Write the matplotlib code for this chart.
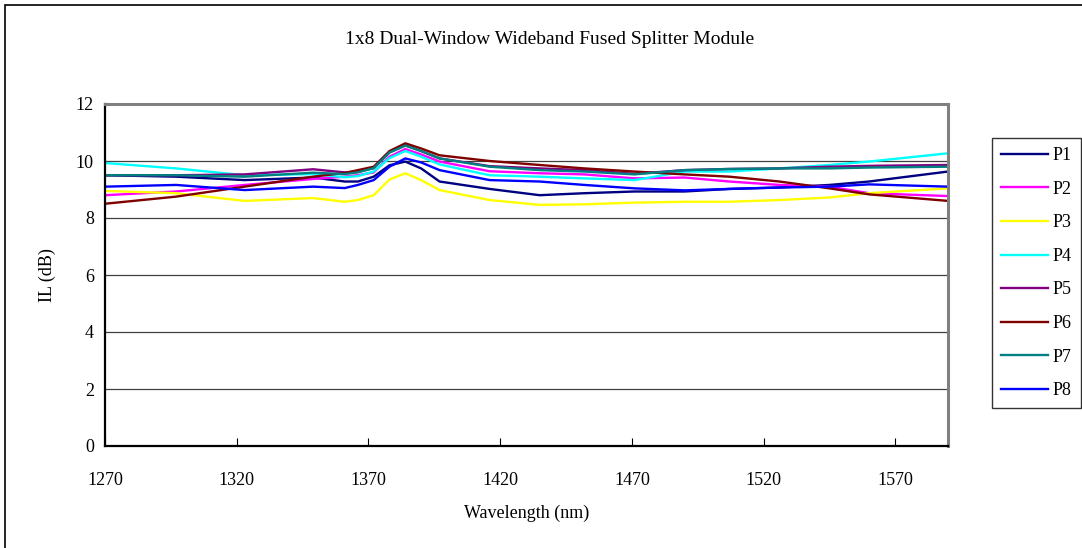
import matplotlib
matplotlib.use("Agg")
import matplotlib.pyplot as plt
from matplotlib.patches import Rectangle

plt.rcParams['font.family'] = ['Liberation Serif', 'DejaVu Serif']

wavelength = [1270, 1297, 1323, 1349, 1361, 1366, 1372, 1378, 1384, 1390, 1397,
              1416, 1435, 1452, 1471, 1490, 1507, 1526, 1545, 1560, 1590]

P1 = [9.50, 9.45, 9.33, 9.42, 9.28, 9.28, 9.45, 9.85, 9.98, 9.74, 9.28,
      9.02, 8.80, 8.87, 8.93, 8.93, 9.02, 9.07, 9.16, 9.28, 9.63]
P2 = [8.80, 8.93, 9.16, 9.37, 9.45, 9.50, 9.60, 10.15, 10.42, 10.23, 9.98,
      9.64, 9.57, 9.53, 9.39, 9.42, 9.28, 9.16, 9.10, 8.87, 8.77]
P3 = [8.95, 8.87, 8.60, 8.70, 8.57, 8.63, 8.80, 9.35, 9.57, 9.33, 8.98,
      8.63, 8.46, 8.48, 8.54, 8.57, 8.57, 8.63, 8.72, 8.87, 9.04]
P4 = [9.93, 9.74, 9.50, 9.54, 9.43, 9.47, 9.63, 10.10, 10.35, 10.15, 9.88,
      9.50, 9.45, 9.39, 9.33, 9.63, 9.63, 9.74, 9.86, 9.98, 10.27]
P5 = [9.50, 9.50, 9.53, 9.71, 9.60, 9.63, 9.75, 10.30, 10.55, 10.35, 10.09,
      9.82, 9.74, 9.68, 9.55, 9.68, 9.72, 9.74, 9.80, 9.83, 9.86]
P6 = [8.50, 8.75, 9.10, 9.45, 9.58, 9.68, 9.80, 10.35, 10.62, 10.44, 10.20,
      10.00, 9.86, 9.74, 9.63, 9.53, 9.45, 9.28, 9.04, 8.83, 8.60]
P7 = [9.50, 9.50, 9.45, 9.59, 9.54, 9.60, 9.75, 10.30, 10.54, 10.35, 10.09,
      9.80, 9.68, 9.63, 9.53, 9.68, 9.72, 9.74, 9.74, 9.77, 9.80]
P8 = [9.10, 9.16, 8.98, 9.10, 9.05, 9.16, 9.33, 9.80, 10.09, 9.95, 9.68,
      9.33, 9.28, 9.16, 9.04, 8.97, 9.02, 9.07, 9.10, 9.18, 9.10]

series = [P1, P2, P3, P4, P5, P6, P7, P8]
labels = ['P1', 'P2', 'P3', 'P4', 'P5', 'P6', 'P7', 'P8']
colors = ['#000080', '#FF00FF', '#FFFF00', '#00FFFF', '#800080', '#800000', '#008080', '#0000FF']
xticks = [1270, 1320, 1370, 1420, 1470, 1520, 1570]
yticks = [0, 2, 4, 6, 8, 10, 12]

W, H = 1082, 548
fig = plt.figure(figsize=(W / 100, H / 100), dpi=100)
ax = fig.add_axes([105 / W, 1 - 446 / H, (948 - 105) / W, (446 - 104) / H])

for y, lab, c in zip(series, labels, colors):
    ax.plot(wavelength, y, color=c, lw=1.7, label=lab)

ax.set_xlim(1270, 1590)
ax.set_ylim(0, 12)
ax.set_xticks(xticks)
ax.set_yticks(yticks)
ax.tick_params(axis='x', direction='in', length=6, labelsize=13, pad=19, color='black')
ax.tick_params(axis='y', direction='out', length=0, labelsize=13, pad=8, color='black')
ax.grid(axis='y', color='#404040', lw=0.9)
ax.set_axisbelow(True)
for s in ['top', 'right']:
    ax.spines[s].set_color('#808080')
    ax.spines[s].set_linewidth(2.2)
for s in ['left', 'bottom']:
    ax.spines[s].set_color('black')
    ax.spines[s].set_linewidth(1.6)

ax.set_xlabel('Wavelength (nm)', fontsize=13, labelpad=11)
ax.set_ylabel('IL (dB)', fontsize=13, labelpad=14)
fig.text(550 / W, 1 - 39 / H, '1x8 Dual-Window Wideband Fused Splitter Module',
         ha='center', va='center', fontsize=14)

leg = ax.legend(loc='upper left', bbox_to_anchor=(992 / W, 1 - 138 / H),
                bbox_transform=fig.transFigure, borderaxespad=0, fontsize=13,
                frameon=True, fancybox=False, handlelength=2.6, handletextpad=0.25,
                labelspacing=0.92, borderpad=0.5)
leg.get_frame().set_edgecolor('black')
leg.get_frame().set_linewidth(1.0)

fig.patches.append(Rectangle((5 / W, -0.2), 1.2, 1.2 - 5 / H, transform=fig.transFigure,
                             fill=False, edgecolor='black', lw=1.2))

fig.savefig('out.png', dpi=100)
